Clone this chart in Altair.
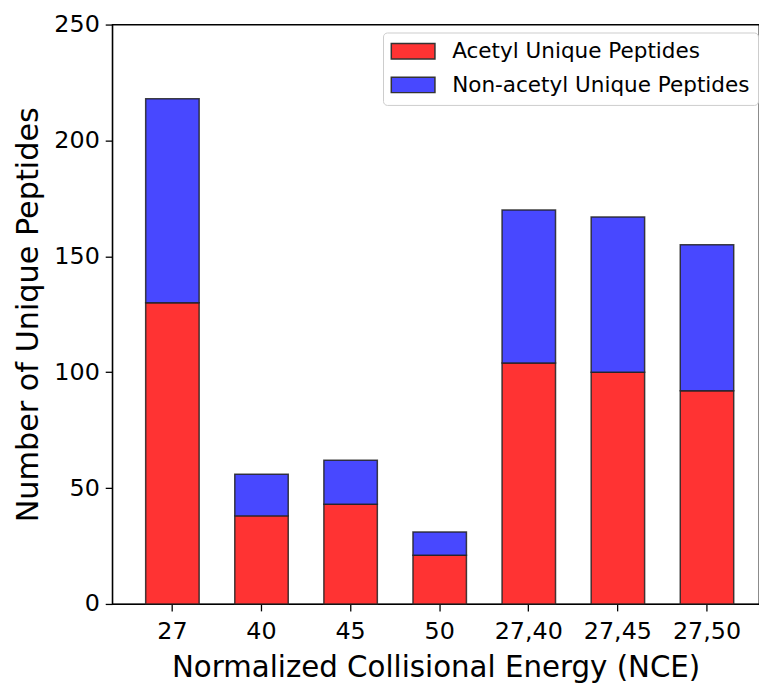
import altair as alt
import pandas as pd

categories = ["27", "40", "45", "50", "27,40", "27,45", "27,50"]
acetyl = [130, 38, 43, 21, 104, 100, 92]
non_acetyl_total = [218, 56, 62, 31, 170, 167, 155]
series = ["Acetyl Unique Peptides", "Non-acetyl Unique Peptides"]
colors = ["#FF3333", "#4848FF"]
y_ticks = [0, 50, 100, 150, 200, 250]

rows = []
for c, a, t in zip(categories, acetyl, non_acetyl_total):
    rows.append({"NCE": c, "Series": series[0], "Count": a, "ord": 0})
    rows.append({"NCE": c, "Series": series[1], "Count": t - a, "ord": 1})
df = pd.DataFrame(rows)

font = "DejaVu Sans"

chart = alt.Chart(df).mark_bar(
    stroke="#222222", strokeWidth=1.5, strokeOpacity=0.85
).encode(
    x=alt.X("NCE:N", sort=categories,
            scale=alt.Scale(paddingInner=0.4, paddingOuter=0.33, align=0.57),
            axis=alt.Axis(title="Normalized Collisional Energy (NCE)", labelAngle=0,
                          labelFontSize=24, titleFontSize=29.5, labelPadding=9,
                          titlePadding=10, tickSize=7, tickWidth=1.3,
                          domainWidth=1.3, domainColor="black", tickColor="black",
                          labelColor="black", titleColor="black",
                          labelFont=font, titleFont=font, titleFontWeight="normal")),
    y=alt.Y("Count:Q", stack="zero",
            scale=alt.Scale(domain=[0, 250], nice=False),
            axis=alt.Axis(title="Number of Unique Peptides", values=y_ticks, grid=False,
                          labelFontSize=24, titleFontSize=30.5, labelPadding=6,
                          titlePadding=10, tickSize=7, tickWidth=1.3,
                          domainWidth=1.3, domainColor="black", tickColor="black",
                          labelColor="black", titleColor="black",
                          labelFont=font, titleFont=font, titleFontWeight="normal")),
    color=alt.Color("Series:N", scale=alt.Scale(domain=series, range=colors),
                    legend=alt.Legend(title=None, orient="none", legendX=273, legendY=8,
                                      labelFontSize=21.7, labelFont=font, labelColor="black",
                                      labelLimit=0,
                                      symbolType="M-1.105,-0.816L3.526,-0.816L3.526,0.816L-1.105,0.816Z",
                                      symbolSize=361, symbolStrokeColor="#333333",
                                      symbolStrokeWidth=1.5, symbolOpacity=1,
                                      labelOffset=40, rowPadding=11, padding=8,
                                      strokeColor="#cccccc", fillColor="white",
                                      cornerRadius=4)),
    order=alt.Order("ord:Q", sort="ascending"),
).properties(
    width=652, height=584,
    autosize=alt.AutoSizeParams(type="none"),
    padding={"left": 105, "top": 14, "right": 0, "bottom": 78},
).configure_view(
    stroke="black", strokeWidth=1.3
)

chart.save("out.html", embed_options={"renderer": "svg", "actions": False})
